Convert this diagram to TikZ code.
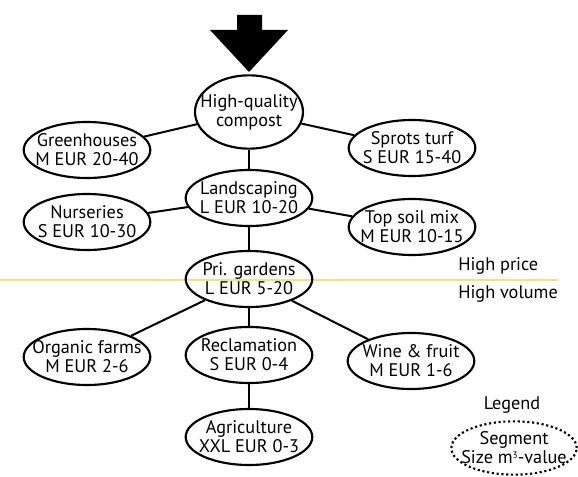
\documentclass[tikz,border=0pt]{standalone}
\usepackage{fontspec}
\setmainfont{PT Sans}
\usetikzlibrary{shapes.geometric}

\begin{document}
\begin{tikzpicture}[x=0.75pt,y=-0.75pt,
  segment/.style={ellipse, draw, line width=1.6pt, minimum width=95pt,
    minimum height=42pt, inner xsep=-8pt, inner ysep=0pt, align=center,
    font=\fontsize{13.7}{14.3}\selectfont},
  link/.style={line width=1.5pt},
  border/.style={draw={rgb,255:red,240;green,226;blue,130}, line width=0.8pt},
  note/.style={anchor=west, inner sep=0pt, font=\fontsize{13.7}{14.3}\selectfont}]
  % Cadre de l'image
  \useasboundingbox (0,0) rectangle (578,477);

  % Grosse fleche d'entree
  \fill (237,15) -- (262,15) -- (262,30) -- (288,30) -- (249,72)
    -- (210,30) -- (237,30) -- cycle;

  % Frontiere prix / volume
  \draw[border] (0,280) -- (558,280);
  \node[note] (price) at (458,266) {High price};
  \node[note] (volume) at (458,294) {High volume};

  % Segments
  \node[segment, minimum width=81pt, minimum height=55pt] (compost) at (249,112) {High-quality\\compost};
  \node[segment] (greenhouses) at (87,150) {Greenhouses\\M EUR 20-40};
  \node[segment] (turf) at (412,148) {Sprots turf\\S EUR 15-40};
  \node[segment] (landscaping) at (249,198) {Landscaping\\L EUR 10-20};
  \node[segment] (nurseries) at (87,222) {Nurseries\\S EUR 10-30};
  \node[segment] (topsoil) at (412,227) {Top soil mix\\M EUR 10-15};
  \node[segment] (gardens) at (249,279) {Pri. gardens\\L EUR 5-20};
  \node[segment] (organic) at (87,357) {Organic farms\\M EUR 2-6};
  \node[segment] (reclamation) at (249,355) {Reclamation\\S EUR 0-4};
  \node[segment] (wine) at (411,361) {Wine \& fruit\\M EUR 1-6};
  \node[segment] (agriculture) at (249,437) {Agriculture\\XXL EUR 0-3};

  % Liens entre segments
  \foreach \from/\to in {compost/greenhouses, compost/turf, compost/landscaping,
      landscaping/nurseries, landscaping/topsoil, landscaping/gardens,
      gardens/organic, gardens/reclamation, gardens/wine, reclamation/agriculture}
    \draw[link] (\from) -- (\to);

  % Legende
  \node[font=\fontsize{13.7}{14.3}\selectfont] (legend) at (512,405) {Legend};
  \node[segment, dotted, minimum width=94pt, minimum height=40pt] (key) at (514,448)
    {Segment\\Size m\raisebox{0.6ex}{\fontsize{7}{7}\selectfont 3}-value};
\end{tikzpicture}
\end{document}
